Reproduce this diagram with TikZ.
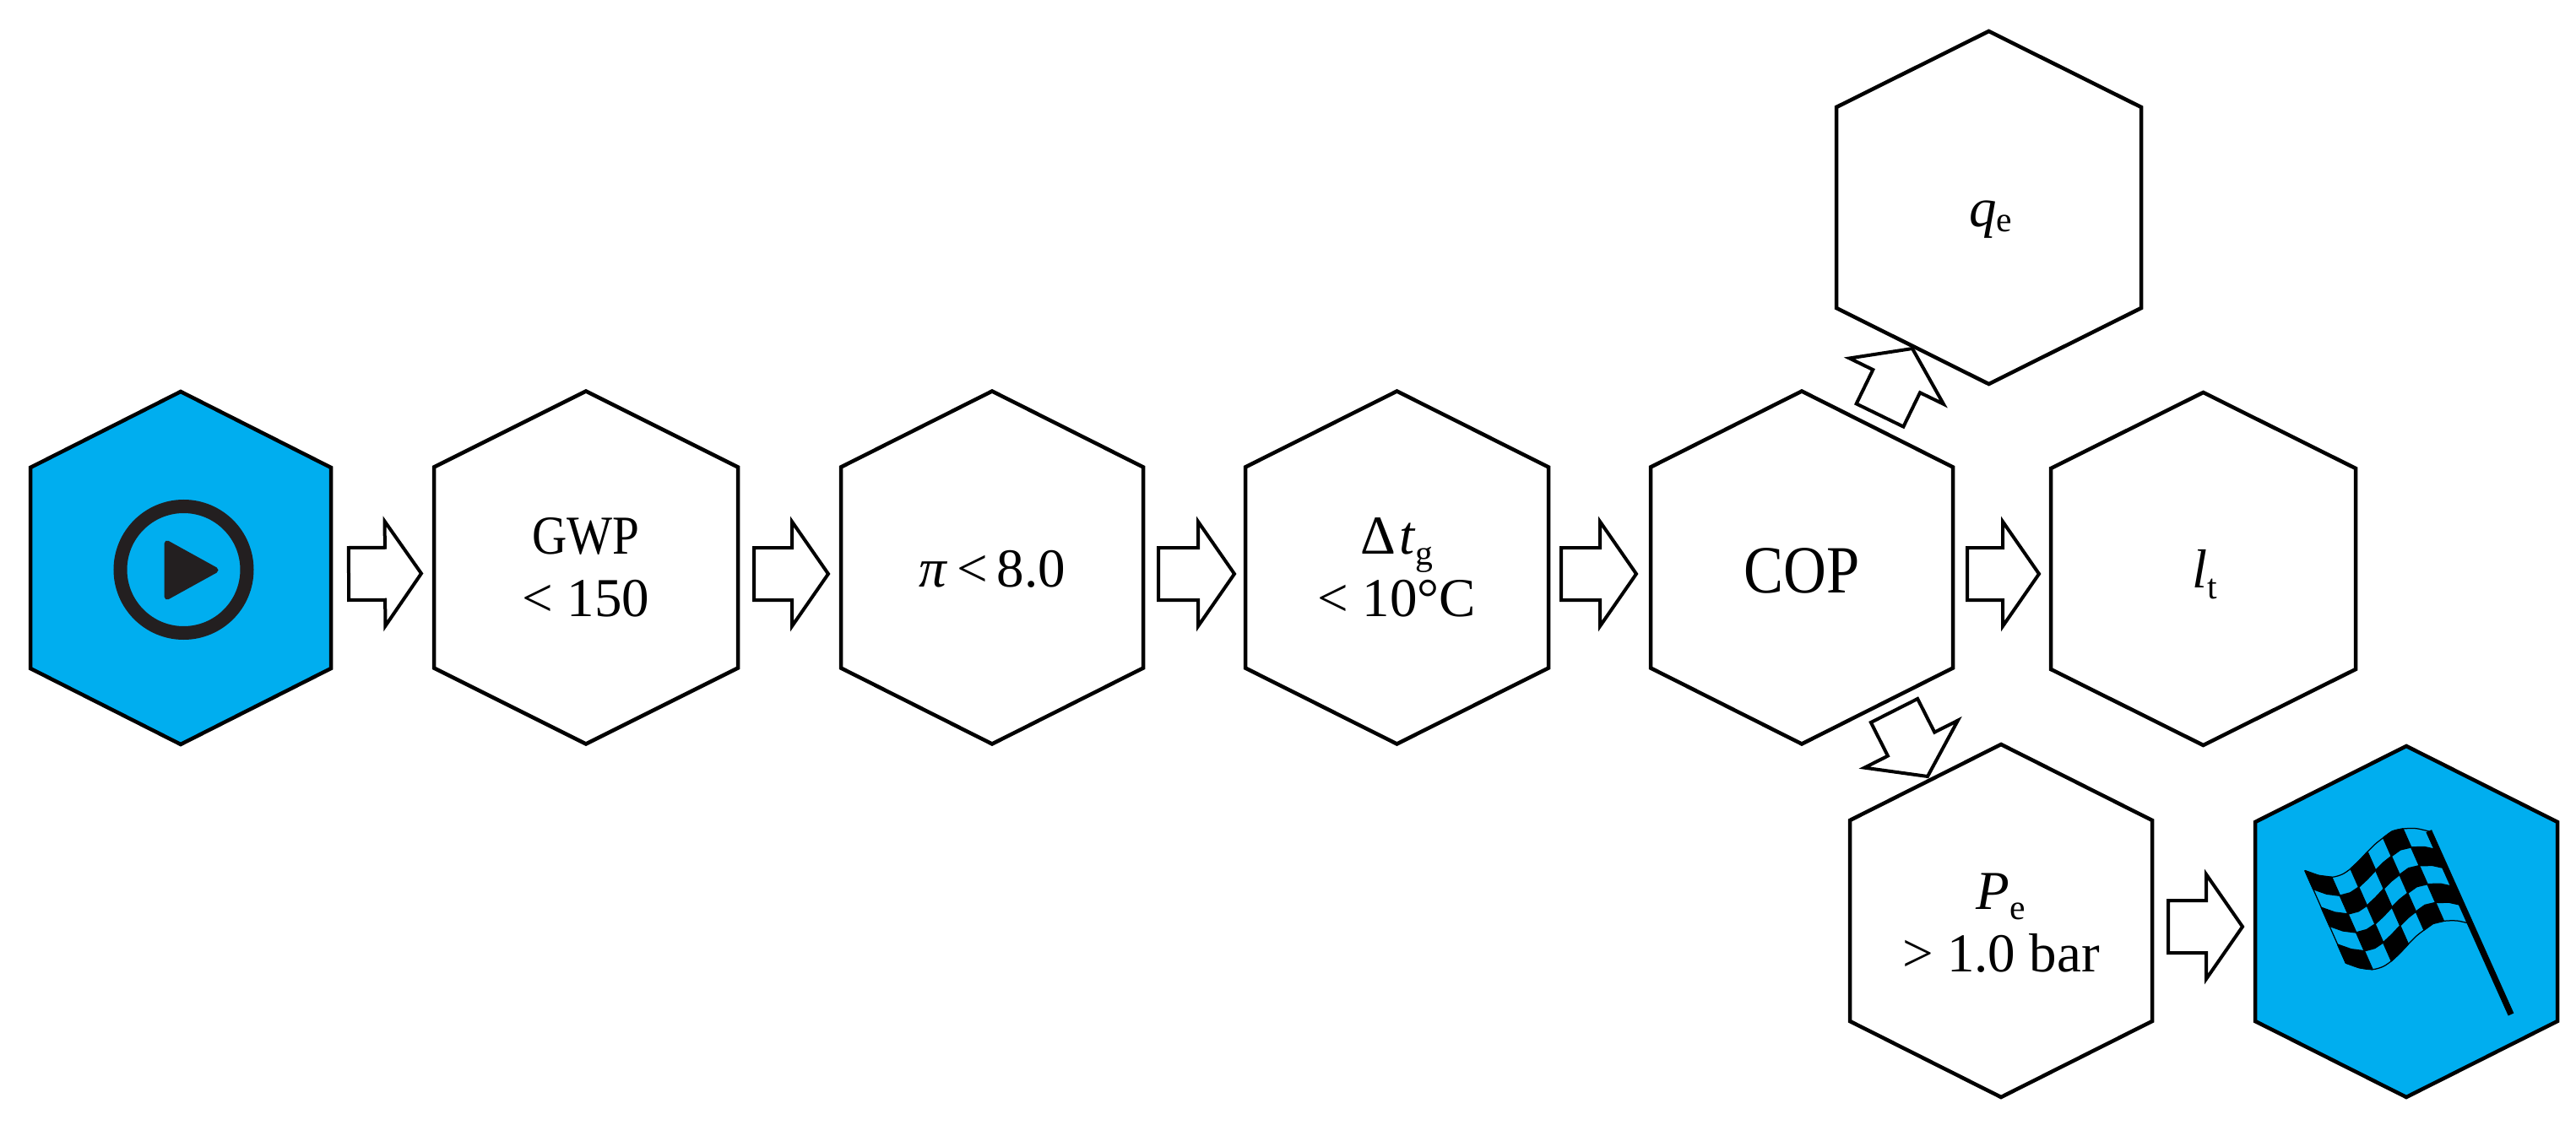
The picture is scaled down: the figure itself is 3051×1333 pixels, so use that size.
\documentclass[tikz,border=0pt]{standalone}
\usepackage{fontspec}
\setmainfont{Liberation Serif}
\usetikzlibrary{calc}
\definecolor{hexblue}{HTML}{00AEEF}
\definecolor{icondark}{HTML}{231F20}
\def\px{0.24pt}
\def\hexshoulder{21.6pt}
\makeatletter
\pgfdeclareshape{hexcell}{
  \inheritsavedanchors[from=rectangle]
  \inheritanchorborder[from=rectangle]
  \inheritanchor[from=rectangle]{center}
  \inheritanchor[from=rectangle]{north}
  \inheritanchor[from=rectangle]{south}
  \inheritanchor[from=rectangle]{east}
  \inheritanchor[from=rectangle]{west}
  \inheritanchor[from=rectangle]{base}
  \inheritanchor[from=rectangle]{mid}
  \backgroundpath{
    \southwest \edef\hxa{\the\pgf@x}\edef\hya{\the\pgf@y}
    \northeast \edef\hxb{\the\pgf@x}\edef\hyb{\the\pgf@y}
    \pgf@xa=\hxa \advance\pgf@xa by \hxb \pgf@xa=.5\pgf@xa \edef\hxc{\the\pgf@xa}
    \pgf@ya=\hya \advance\pgf@ya by \hexshoulder \edef\hyc{\the\pgf@ya}
    \pgf@yb=\hyb \advance\pgf@yb by -\hexshoulder \edef\hyd{\the\pgf@yb}
    \pgfpathmoveto{\pgfqpoint{\hxc}{\hyb}}
    \pgfpathlineto{\pgfqpoint{\hxb}{\hyd}}
    \pgfpathlineto{\pgfqpoint{\hxb}{\hyc}}
    \pgfpathlineto{\pgfqpoint{\hxc}{\hya}}
    \pgfpathlineto{\pgfqpoint{\hxa}{\hyc}}
    \pgfpathlineto{\pgfqpoint{\hxa}{\hyd}}
    \pgfpathclose
  }
}
\makeatother
\newcommand\lowidx[2][3pt]{\raisebox{-#1}{\fontsize{10}{11}\selectfont #2}}
\newcommand\dropbase[2]{\raisebox{-#1}[0pt][0pt]{#2}}
\def\TX{{150,198,245,282,312,342,372,400,428,460,498,545,590}}
\def\TY{{155,172,178,168,148,120,88,60,38,15,6,5,15}}
\tikzset{
  hexbox/.style={shape=hexcell, draw=black, fill=white, line width=4.5*\px, inner sep=0pt, outer sep=0pt,
    minimum height=418*\px, align=center, font=\fontsize{15.6}{17.8}\selectfont},
  bluehex/.style={hexbox, fill=hexblue},
  blockarrow/.style={draw=black, fill=white, line width=4*\px, to path={
    ($(\tikztotarget)!43*\px!(\tikztostart)$) coordinate (ban)
    ($(\tikztostart)!31*\px!90:(\tikztotarget)$) coordinate (ba1)
    ($(\tikztostart)!31*\px!-90:(\tikztotarget)$) coordinate (ba2)
    ($(ban)!31*\px!-90:(\tikztotarget)$) coordinate (ba3)
    ($(ban)!31*\px!90:(\tikztotarget)$) coordinate (ba4)
    ($(ban)!62*\px!-90:(\tikztotarget)$) coordinate (ba5)
    ($(ban)!62*\px!90:(\tikztotarget)$) coordinate (ba6)
    (ba1) -- (ba2) -- (ba3) -- (ba5) -- (\tikztotarget) -- (ba6) -- (ba4) -- cycle}},
  flagedge/.style={draw=black, line width=0.3pt},
  flagcell/.style={fill=black, draw=black, line width=0.35pt, line join=round},
}
\begin{document}
\begin{tikzpicture}[x=0.24pt,y=-0.24pt]
\useasboundingbox (0,0) rectangle (3051,1333);
% hexagons
\node[bluehex, minimum width=356*\px] (start) at (214,673) {};
\node[hexbox, minimum width=360*\px] (gwp) at (694,672.5) {\scalebox{.88}[1]{GWP}\\< 150};
\node[hexbox, minimum width=358*\px] (pi) at (1175,672.5) {\dropbase{5.4pt}{\textit{π}\,<\,8.0}};
\node[hexbox, minimum width=359*\px] (dt) at (1654.5,672.5) {Δ\kern1pt\textit{t}\lowidx{g}\\< 10°C};
\node[hexbox, minimum width=358*\px, font=\fontsize{19.2}{22}\selectfont] (cop) at (2134,672.5) {\dropbase{7.3pt}{\scalebox{.88}[1]{COP}}};
\node[hexbox, minimum width=361*\px] (lt) at (2609.5,674) {\dropbase{5.5pt}{\hspace{1pt}\textit{l}\lowidx{t}}};
\node[hexbox, minimum width=361*\px] (qe) at (2355.5,246) {\dropbase{5.4pt}{\hspace{1pt}\textit{q}\lowidx[1.5pt]{e}}};
\node[hexbox, minimum width=358*\px] (pe) at (2370,1091) {\rule{0pt}{11.5pt}\textit{P}\lowidx{e}\\> 1.0 bar};
\node[bluehex, minimum width=358*\px, minimum height=416*\px] (finish) at (2850,1092) {};
% block arrows
\draw[blockarrow] ([shift={(21,7)}]start.east) to ([shift={(-15,7)}]gwp.west);
\draw[blockarrow] ([shift={(19,7.5)}]gwp.east) to ([shift={(-15,7.5)}]pi.west);
\draw[blockarrow] ([shift={(18,7.5)}]pi.east) to ([shift={(-13,7.5)}]dt.west);
\draw[blockarrow] ([shift={(15,7.5)}]dt.east) to ([shift={(-17,7.5)}]cop.west);
\draw[blockarrow] ([shift={(17,7.5)}]cop.east) to ([shift={(-14,6)}]lt.west);
\draw[blockarrow] ([shift={(19,7)}]pe.east) to ([shift={(-15,6)}]finish.west);
\draw[blockarrow] ([shift={(92.5,-180.5)}]cop.center) to ([shift={(-90.5,167)}]qe.center);
\draw[blockarrow] ([shift={(109.5,169.5)}]cop.center) to ([shift={(-87,-171)}]pe.center);
% play icon
\draw[icondark, line width=16*\px] (217.5,675) circle (75);
\filldraw[icondark, line width=7*\px, line join=round] (198,644) -- (255,675.5) -- (198,707) -- cycle;
% chequered flag
\begin{scope}[shift={(2680,980)}, x=0.08pt, y=-0.08pt]
  \draw[black, line width=1.75pt] (590,14) -- (882,666);
  \foreach \r in {0,...,4}{
    \foreach \c in {0,...,5}{
      \pgfmathtruncatemacro\parity{mod(\r+\c,2)}
      \ifnum\parity=0
        \pgfmathtruncatemacro\ka{2*\c}
        \pgfmathtruncatemacro\kb{2*\c+1}
        \pgfmathtruncatemacro\kc{2*\c+2}
        \path[flagcell]
          ({\TX[\ka]+\r*29},{\TY[\ka]+\r*65.6}) --
          ({\TX[\kb]+\r*29},{\TY[\kb]+\r*65.6}) --
          ({\TX[\kc]+\r*29},{\TY[\kc]+\r*65.6}) --
          ({\TX[\kc]+(\r+1)*29},{\TY[\kc]+(\r+1)*65.6}) --
          ({\TX[\kb]+(\r+1)*29},{\TY[\kb]+(\r+1)*65.6}) --
          ({\TX[\ka]+(\r+1)*29},{\TY[\ka]+(\r+1)*65.6}) -- cycle;
      \fi
    }
  }
  \draw[flagedge] plot[smooth] coordinates {(150,155)(198,172)(245,178)(282,168)(312,148)(342,120)(372,88)(400,60)(428,38)(460,15)(498,6)(545,5)(590,15)};
  \draw[flagedge] plot[smooth] coordinates {(295,483)(343,500)(390,506)(427,496)(457,476)(487,448)(517,416)(545,388)(573,366)(605,343)(643,334)(690,333)(735,343)};
  \draw[flagedge] (150,155) -- (295,483);
\end{scope}
\end{tikzpicture}
\end{document}
